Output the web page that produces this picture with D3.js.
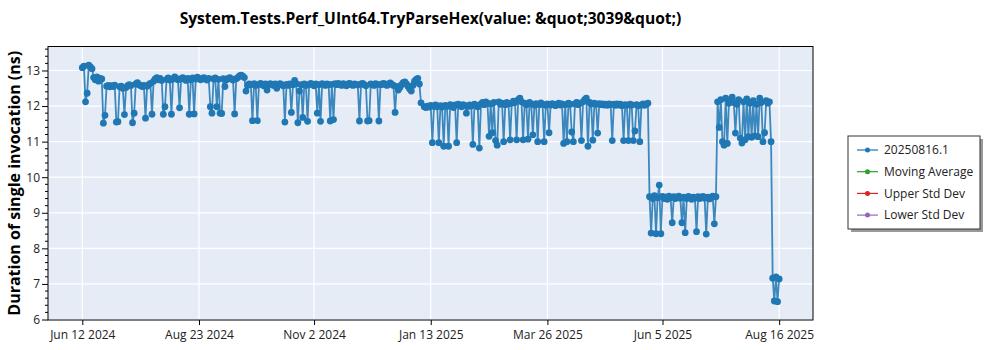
<!DOCTYPE html>
<html><head><meta charset="utf-8">
<script src="https://cdn.jsdelivr.net/npm/d3@7"></script>
<style>
body{margin:0;background:#fff;}
text{font-family:"Open Sans","Noto Sans",sans-serif;}
</style>
</head><body>
<svg id="c" width="1000" height="350"></svg>
<script>
const chartTitle = "System.Tests.Perf_UInt64.TryParseHex(value: &quot;3039&quot;)";
const yTitle = "Duration of single invocation (ns)";
const seriesNames = ["20250816.1", "Moving Average", "Upper Std Dev", "Lower Std Dev"];
const seriesColors = ["#1f77b4", "#2ca02c", "#d62728", "#9467bd"];
const xTickDates = ["2024-06-12", "2024-08-23", "2024-11-02", "2025-01-13", "2025-03-26", "2025-06-05", "2025-08-16"];
const xTickLabels = ["Jun 12 2024", "Aug 23 2024", "Nov 2 2024", "Jan 13 2025", "Mar 26 2025", "Jun 5 2025", "Aug 16 2025"];
const yTickValues = [6, 7, 8, 9, 10, 11, 12, 13];

// daily measurements, each run starts at its date
const phaseStarts = ["2024-06-12", "2024-06-19", "2024-06-25", "2024-07-26", "2024-09-21", "2025-01-09", "2025-05-28", "2025-07-09", "2025-08-12"];
const phaseA = [13.08, 13.12, 12.12, 12.36, 13.15, 13.10, 13.05];
const phaseB = [12.80, 12.74, 12.82, 12.70, 12.78, 12.76];
const phaseC = [11.52, 11.74, 12.56, 12.58, 12.54, 12.57, 12.55, 12.59, 11.55, 11.56,
  12.54, 12.56, 12.50, 11.76, 12.52, 12.57, 12.60, 12.58, 11.53, 11.80,
  12.62, 12.66, 12.60, 12.57, 12.55, 12.58, 11.66, 12.56, 12.60, 12.64, 11.77];
const phaseD = [12.70, 12.76, 12.80, 12.74, 12.78, 12.72, 11.77, 11.98, 12.75, 12.79,
  12.73, 11.77, 12.76, 12.82, 12.78, 12.74, 11.95, 12.77, 12.80, 12.75,
  12.72, 12.78, 11.77, 12.74, 12.79, 11.78, 12.76, 12.81, 12.78, 12.74,
  12.77, 12.80, 12.75, 12.73, 12.78, 11.98, 11.80, 12.76, 12.79, 11.98,
  12.75, 11.80, 11.79, 12.77, 12.55, 12.74, 12.78, 12.80, 12.76, 12.73,
  11.78, 12.77, 12.80, 12.85, 12.87, 12.84, 12.80];
const phaseE = [12.42, 12.58, 12.62, 12.60, 11.59, 12.63, 12.58, 11.59, 12.61, 12.64,
  12.60, 12.57, 12.62, 12.45, 12.60, 12.63, 12.61, 12.58, 12.62, 12.50,
  12.59, 12.63, 12.60, 12.57, 11.55, 12.61, 12.58, 12.62, 11.82, 12.60,
  12.72, 12.63, 11.53, 12.42, 12.60, 11.68, 12.62, 12.58, 11.57, 12.61,
  12.64, 12.60, 12.57, 12.62, 11.80, 12.60, 11.57, 12.63, 12.61, 12.58,
  12.62, 12.60, 11.58, 12.61, 11.62, 12.63, 12.60, 12.64, 12.61, 12.58,
  12.63, 12.60, 12.57, 12.62, 12.64, 12.60, 12.58, 12.62, 12.61, 12.59,
  11.58, 12.62, 12.64, 12.60, 12.57, 11.58, 11.59, 12.62, 12.60, 12.58,
  12.63, 12.61, 11.58, 12.60, 12.62, 12.64, 12.60, 12.58, 12.62, 12.65,
  12.61, 12.58, 11.82, 12.55, 12.45, 12.52, 12.60, 12.66, 12.68, 12.62,
  12.55, 12.48, 12.42, 12.58, 12.70, 12.75, 12.78, 12.62, 12.09];
const phaseF = [11.98, 11.96, 12.00, 11.97, 12.02, 10.97, 11.99, 12.03, 11.98, 10.97,
  12.01, 11.97, 10.87, 12.02, 11.99, 10.87, 12.04, 12.00, 11.96, 12.03,
  10.97, 12.05, 12.01, 11.98, 12.04, 12.02, 11.80, 11.99, 12.03, 12.00,
  10.92, 12.05, 12.02, 11.98, 10.82, 12.06, 12.10, 12.04, 12.12, 12.08,
  11.15, 12.06, 11.25, 12.10, 11.03, 10.90, 12.12, 12.05, 12.08, 11.00,
  12.04, 12.10, 12.06, 11.05, 12.08, 12.14, 12.10, 11.05, 12.18, 12.22,
  12.12, 11.05, 12.08, 12.04, 11.07, 12.10, 12.06, 11.19, 12.03, 12.07,
  11.00, 12.04, 12.09, 12.05, 11.00, 12.02, 12.06, 11.25, 12.03, 12.07,
  12.04, 12.01, 12.05, 12.08, 12.03, 12.06, 10.95, 12.04, 11.00, 12.08,
  12.05, 11.27, 11.00, 12.06, 12.10, 12.04, 12.08, 11.03, 12.12, 12.18,
  12.22, 10.87, 12.10, 12.06, 11.04, 12.08, 12.05, 11.24, 12.07, 12.04,
  12.06, 12.03, 12.05, 12.02, 12.06, 12.04, 11.03, 12.05, 12.02, 12.06,
  12.03, 12.05, 12.01, 11.03, 12.04, 12.02, 11.03, 12.05, 12.03, 11.03,
  11.30, 12.04, 12.01, 11.00, 12.03, 12.06, 12.02, 12.05, 12.08];
const phaseG = [9.45, 8.43, 9.40, 9.48, 8.41, 9.42, 9.78, 8.41, 9.46, 9.40,
  9.44, 9.38, 9.47, 9.42, 8.72, 9.45, 9.40, 9.43, 9.47, 9.41,
  8.72, 9.44, 8.44, 9.40, 9.46, 9.42, 9.38, 9.44, 9.41, 8.47,
  9.45, 9.40, 9.43, 9.46, 9.41, 8.40, 9.44, 9.39, 9.42, 9.47,
  8.69, 9.45];
const phaseH = [12.12, 11.40, 12.18, 11.00, 10.90, 12.22, 10.95, 12.08, 12.15, 12.25,
  12.10, 11.24, 12.05, 12.18, 11.10, 10.96, 12.12, 11.05, 12.20, 11.14,
  12.08, 11.12, 12.15, 11.16, 12.05, 11.14, 12.22, 12.10, 11.00, 11.25,
  12.15, 12.08, 12.12, 11.00];
const phaseI = [7.16, 6.52, 7.20, 6.50, 7.14];
const phases = [phaseA, phaseB, phaseC, phaseD, phaseE, phaseF, phaseG, phaseH, phaseI];

const DAY = 86400000;
const data = [];
phases.forEach((vals, p) => {
  const t0 = new Date(phaseStarts[p] + "T00:00:00Z").getTime();
  vals.forEach((v, i) => data.push({t: new Date(t0 + i * DAY), v: v}));
});

const W = 1000, H = 350;
const L = 48, R = 813, T = 46.5, B = 320;
const svg = d3.select("#c");

const x = d3.scaleUtc()
  .domain([new Date("2024-05-21T20:00:00Z"), new Date("2025-09-05T21:00:00Z")])
  .range([L, R]);
const y = d3.scaleLinear().domain([5.986, 13.674]).range([B, T]);

// plot background
svg.append("rect").attr("x", L).attr("y", T).attr("width", R - L).attr("height", B - T).attr("fill", "#e5ecf6");

// gridlines
const tickDates = xTickDates.map(s => new Date(s + "T00:00:00Z"));
svg.append("g").selectAll("line").data(tickDates).join("line")
  .attr("x1", d => x(d)).attr("x2", d => x(d)).attr("y1", T).attr("y2", B)
  .attr("stroke", "#fff").attr("stroke-width", 1.2);
svg.append("g").selectAll("line").data(yTickValues).join("line")
  .attr("x1", L).attr("x2", R).attr("y1", d => y(d)).attr("y2", d => y(d))
  .attr("stroke", "#fff").attr("stroke-width", 1.2);

// series
svg.append("clipPath").attr("id", "pc").append("rect")
  .attr("x", L).attr("y", T).attr("width", R - L).attr("height", B - T);
const gS = svg.append("g").attr("clip-path", "url(#pc)");
const line = d3.line().x(d => x(d.t)).y(d => y(d.v));
gS.append("path").datum(data).attr("d", line).attr("fill", "none")
  .attr("stroke", seriesColors[0]).attr("stroke-width", 1.8).attr("stroke-opacity", 0.85);
gS.append("g").selectAll("circle").data(data).join("circle")
  .attr("cx", d => x(d.t)).attr("cy", d => y(d.v)).attr("r", 3.4)
  .attr("fill", seriesColors[0]);

// axes
const xAxis = d3.axisBottom(x).tickValues(tickDates).tickFormat((d, i) => xTickLabels[i]).tickSize(5).tickSizeOuter(0);
const gx = svg.append("g").attr("transform", `translate(0,${B})`).call(xAxis);
gx.select(".domain").remove();
gx.selectAll("text").attr("font-size", 12).attr("fill", "#222").attr("dy", "0.95em");
gx.selectAll("line").attr("stroke", "#000");

const yAxis = d3.axisLeft(y).tickValues(yTickValues).tickFormat(d3.format("d")).tickSize(6).tickSizeOuter(0);
const gy = svg.append("g").attr("transform", `translate(${L},0)`).call(yAxis);
gy.select(".domain").remove();
gy.selectAll("text").attr("font-size", 12).attr("fill", "#222").attr("x", -8);
gy.selectAll("line").attr("stroke", "#000");
const minor = d3.range(6, 13.61, 0.2).filter(v => Math.abs(v - Math.round(v)) > 0.01);
svg.append("g").selectAll("line").data(minor).join("line")
  .attr("x1", L - 3).attr("x2", L).attr("y1", d => y(d)).attr("y2", d => y(d)).attr("stroke", "#000");

// frame
svg.append("rect").attr("x", L).attr("y", T).attr("width", R - L).attr("height", B - T)
  .attr("fill", "none").attr("stroke", "#000").attr("stroke-width", 1);

// title
svg.append("text").attr("x", (L + R) / 2).attr("y", 24).attr("text-anchor", "middle")
  .attr("font-size", 15.6).attr("font-weight", "bold").attr("fill", "#000").text(chartTitle);
svg.append("text").attr("transform", `translate(20,${(T + B) / 2}) rotate(-90)`)
  .attr("text-anchor", "middle").attr("font-size", 16).attr("font-weight", "bold").attr("fill", "#000").text(yTitle);

// legend
const lgX = 848, lgY = 136, lgW = 132, lgH = 93;
svg.append("rect").attr("x", lgX + 3).attr("y", lgY + 3).attr("width", lgW).attr("height", lgH).attr("fill", "#999");
svg.append("rect").attr("x", lgX).attr("y", lgY).attr("width", lgW).attr("height", lgH).attr("fill", "#fff").attr("stroke", "#333");
const lg = svg.append("g").selectAll("g").data(seriesNames).join("g")
  .attr("transform", (d, i) => `translate(${lgX + 9},${lgY + 14 + i * 21.7})`);
lg.append("line").attr("x1", 0).attr("x2", 21).attr("stroke", (d, i) => seriesColors[i]).attr("stroke-width", 1.2);
lg.append("circle").attr("cx", 10.5).attr("r", 2.5).attr("fill", (d, i) => seriesColors[i]);
lg.append("text").attr("x", 27).attr("dy", "0.35em").attr("font-size", 12).attr("fill", "#222").text(d => d);
</script>
</body></html>
